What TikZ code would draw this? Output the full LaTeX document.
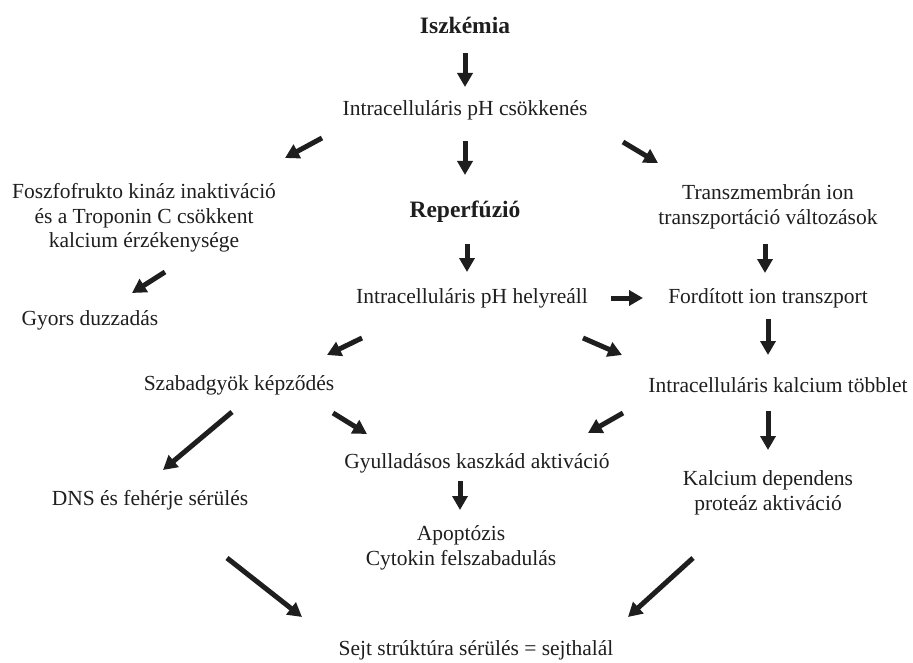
\documentclass[tikz,border=0pt]{standalone}
\usepackage{fontspec}
\setmainfont{Liberation Serif}
\usepackage{xcolor}
\usepackage{tikz}
\usetikzlibrary{arrows.meta}
\definecolor{inkBlack}{HTML}{1E1E1E}
\tikzset{
  txt/.style  = {font=\fontsize{21.5}{24.5}\selectfont, text=inkBlack, align=center, inner sep=0pt},
  head/.style = {txt, font=\fontsize{23.5}{26}\selectfont\bfseries},
  arr/.style  = {-{Triangle[length=14pt, width=15pt]}, draw=inkBlack, line width=5pt}
}
\begin{document}
\begin{tikzpicture}[x=1pt, y=-1pt]
  \useasboundingbox (0,0) rectangle (913,663);
  % causes
  \node[head] (isz)    at (465,25)  {Iszkémia};
  \node[txt]  (phdown) at (465,110) {Intracelluláris pH csökkenés};
  \node[txt]  (foszfo) at (144,218) {Foszfofrukto kináz inaktiváció\\és a Troponin C csökkent\\kalcium érzékenysége};
  \node[head] (reperf) at (465,212) {Reperfúzió};
  \node[txt]  (transz) at (768,207) {Transzmembrán ion\\transzportáció változások};
  \node[txt]  (gyors)  at (90,320)  {Gyors duzzadás};
  \node[txt]  (phrest) at (472,298) {Intracelluláris pH helyreáll};
  \node[txt]  (ford)   at (768,298) {Fordított ion transzport};
  % consequences
  \node[txt]  (szabad) at (239,385) {Szabadgyök képződés};
  \node[txt]  (kalc)   at (778,385) {Intracelluláris kalcium többlet};
  \node[txt]  (gyull)  at (477,463) {Gyulladásos kaszkád aktiváció};
  \node[txt]  (dns)    at (150,500) {DNS és fehérje sérülés};
  \node[txt]  (kdep)   at (768,493) {Kalcium dependens\\proteáz aktiváció};
  \node[txt]  (apo)    at (461,548) {Apoptózis\\Cytokin felszabadulás};
  \node[txt]  (sejt)   at (476,650) {Sejt strúktúra sérülés = sejthalál};

  \draw[arr] ([shift={(0,28)}]isz.center)       -- ([shift={(0,-23)}]phdown.center);
  \draw[arr] ([shift={(-143,28)}]phdown.center) -- ([shift={(141,-60)}]foszfo.center);
  \draw[arr] ([shift={(0,31)}]phdown.center)    -- ([shift={(0,-37)}]reperf.center);
  \draw[arr] ([shift={(158,32)}]phdown.center)  -- ([shift={(-110,-44)}]transz.center);
  \draw[arr] ([shift={(21,54)}]foszfo.center)   -- ([shift={(42,-27)}]gyors.center);
  \draw[arr] ([shift={(2,32)}]reperf.center)    -- ([shift={(-5,-26)}]phrest.center);
  \draw[arr] ([shift={(139,0)}]phrest.center)   -- ([shift={(-125,0)}]ford.center);
  \draw[arr] ([shift={(-3,37)}]transz.center)   -- ([shift={(-3,-25)}]ford.center);
  \draw[arr] ([shift={(-110,40)}]phrest.center) -- ([shift={(88,-30)}]szabad.center);
  \draw[arr] ([shift={(111,40)}]phrest.center)  -- ([shift={(-156,-30)}]kalc.center);
  \draw[arr] ([shift={(0,21)}]ford.center)      -- ([shift={(-10,-30)}]kalc.center);
  \draw[arr] ([shift={(-7,27)}]szabad.center)   -- ([shift={(13,-30)}]dns.center);
  \draw[arr] ([shift={(94,28)}]szabad.center)   -- ([shift={(-110,-29)}]gyull.center);
  \draw[arr] ([shift={(-155,28)}]kalc.center)   -- ([shift={(111,-30)}]gyull.center);
  \draw[arr] ([shift={(-10,26)}]kalc.center)    -- ([shift={(0,-43)}]kdep.center);
  \draw[arr] ([shift={(-17,18)}]gyull.center)   -- ([shift={(-1,-38)}]apo.center);
  \draw[arr] ([shift={(77,58)}]dns.center)      -- ([shift={(-174,-33)}]sejt.center);
  \draw[arr] ([shift={(-75,65)}]kdep.center)    -- ([shift={(152,-33)}]sejt.center);
\end{tikzpicture}
\end{document}
